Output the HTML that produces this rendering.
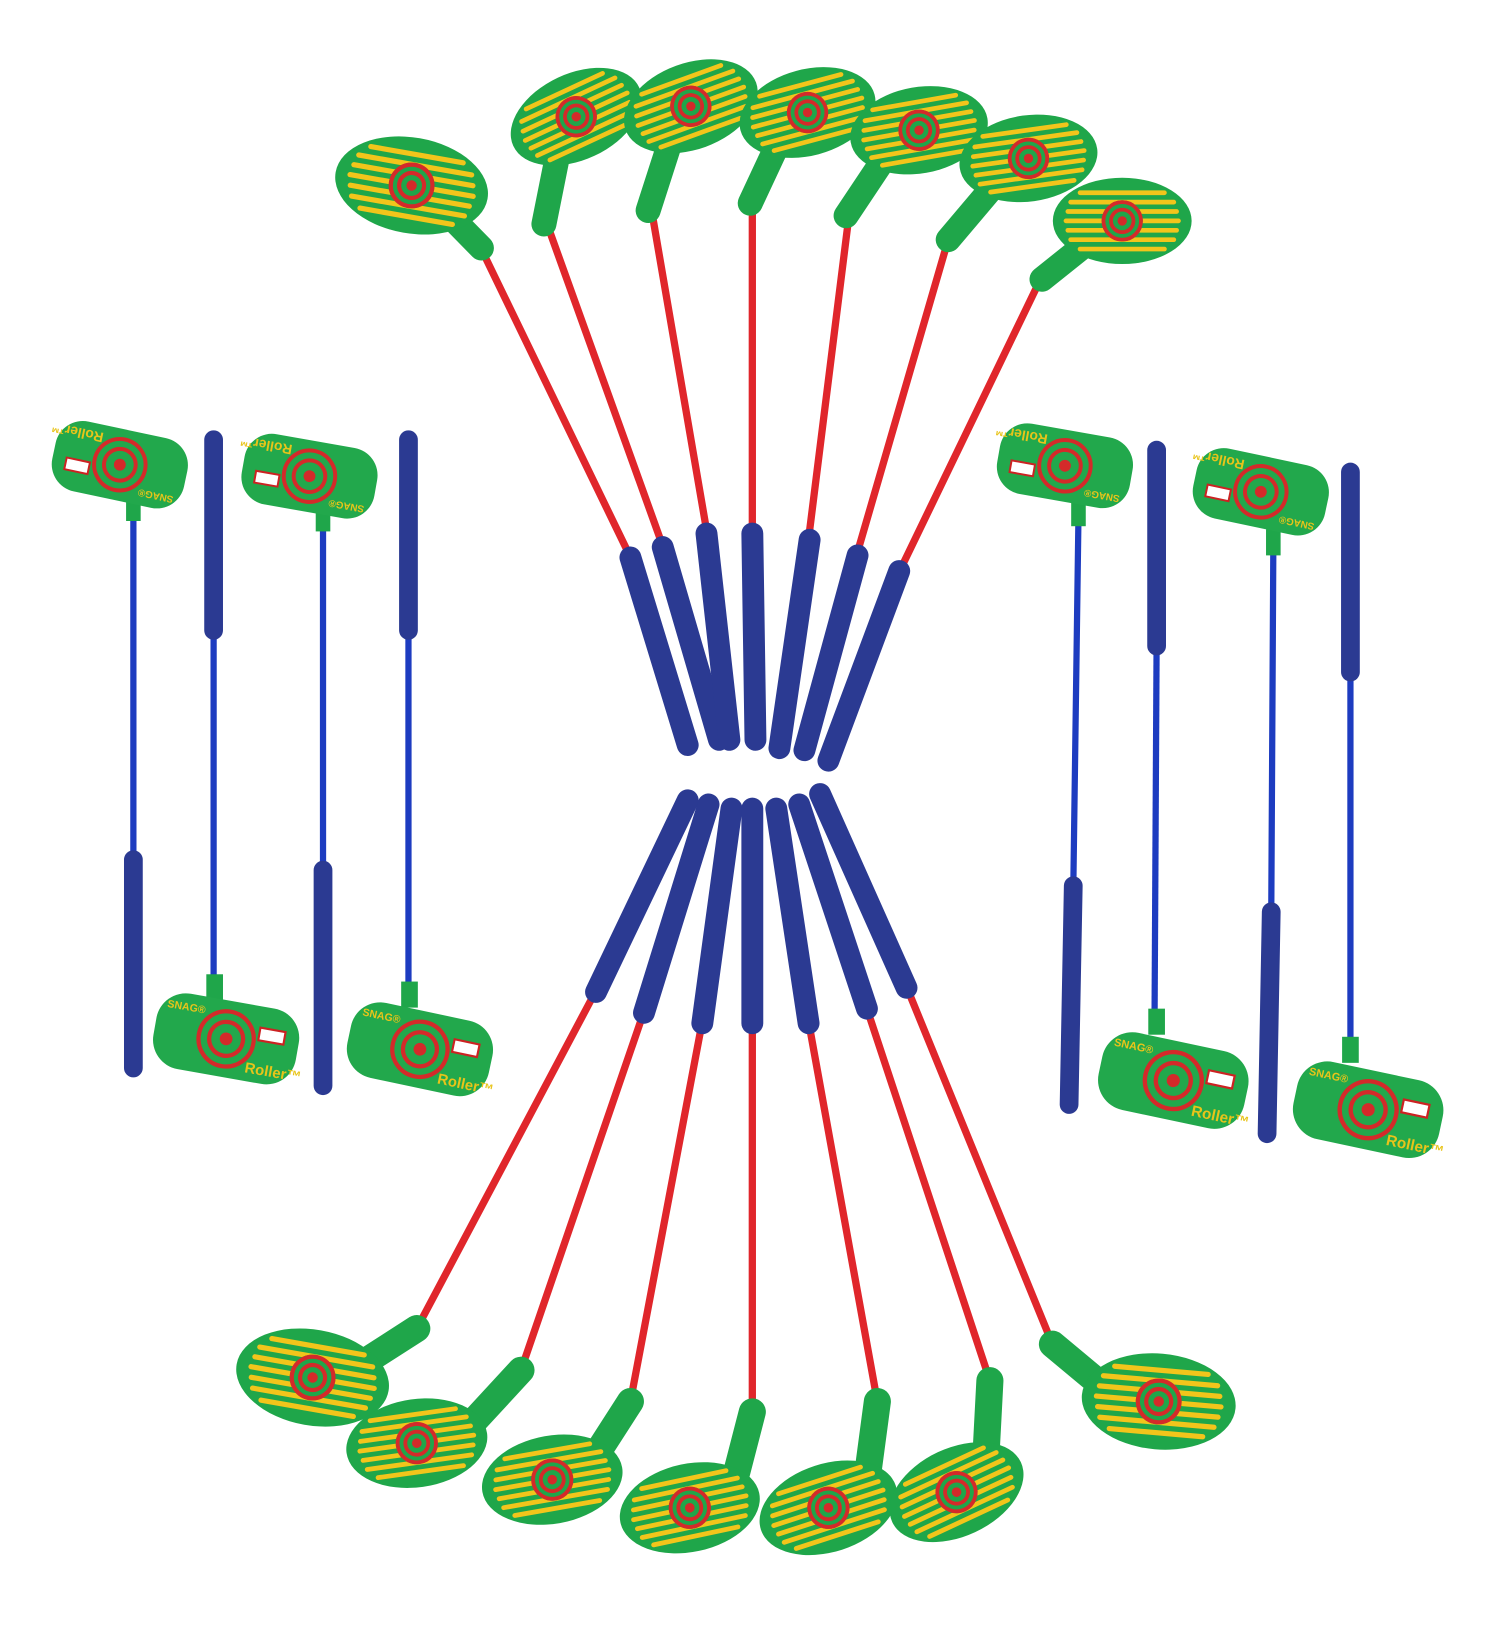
<!DOCTYPE html>
<html><head><meta charset="utf-8"><style>html,body{margin:0;padding:0;background:#fff}svg{display:block}</style></head><body>
<svg width="1500" height="1645" viewBox="0 0 1500 1645" xmlns="http://www.w3.org/2000/svg">
<defs>
<g id="dh">
<ellipse cx="0" cy="0" rx="74" ry="46" fill="#1fa64a"/>
<g stroke="#f2c51b" stroke-width="5" stroke-linecap="round">
<line x1="-45" y1="-30" x2="45" y2="-30"/><line x1="-55" y1="-20" x2="55" y2="-20"/>
<line x1="-58" y1="-10" x2="58" y2="-10"/><line x1="-60" y1="0" x2="60" y2="0"/>
<line x1="-58" y1="10" x2="58" y2="10"/><line x1="-55" y1="20" x2="55" y2="20"/>
<line x1="-45" y1="30" x2="45" y2="30"/></g>
<circle r="22" fill="#1fa64a"/><circle r="20" fill="none" stroke="#d42a2a" stroke-width="4"/>
<circle r="12" fill="none" stroke="#d42a2a" stroke-width="4"/><circle r="5" fill="#d42a2a"/>
</g>
<g id="ph">
<rect x="-68" y="-36" width="136" height="72" rx="28" fill="#22a84c"/>
<circle r="26" fill="none" stroke="#d42a2a" stroke-width="4"/><circle r="16" fill="none" stroke="#d42a2a" stroke-width="4"/><circle r="6" fill="#d42a2a"/>
<rect x="30" y="-16" width="24" height="12" fill="#fff" stroke="#c22" stroke-width="2"/>
<text x="22" y="28" font-family="Liberation Sans,sans-serif" font-size="14" font-weight="bold" fill="#e8c41a">Roller™</text>
<text x="-60" y="-20" font-family="Liberation Sans,sans-serif" font-size="10" font-weight="bold" fill="#e8c41a">SNAG®</text>
</g>
</defs>
<g stroke-linecap="round" transform="scale(1.042)">
<!-- top woods -->
<line x1="460" y1="235" x2="610" y2="545" stroke="#e0262b" stroke-width="7"/><line x1="605" y1="535" x2="660" y2="715" stroke="#2b3a92" stroke-width="21"/>
<line x1="525" y1="215" x2="640" y2="535" stroke="#e0262b" stroke-width="7"/><line x1="636" y1="525" x2="690" y2="710" stroke="#2b3a92" stroke-width="21"/>
<line x1="625" y1="200" x2="680" y2="520" stroke="#e0262b" stroke-width="7"/><line x1="678" y1="512" x2="700" y2="710" stroke="#2b3a92" stroke-width="21"/>
<line x1="722" y1="195" x2="722" y2="520" stroke="#e0262b" stroke-width="7"/><line x1="722" y1="512" x2="725" y2="710" stroke="#2b3a92" stroke-width="21"/>
<line x1="815" y1="205" x2="775" y2="525" stroke="#e0262b" stroke-width="7"/><line x1="777" y1="518" x2="748" y2="718" stroke="#2b3a92" stroke-width="21"/>
<line x1="910" y1="230" x2="820" y2="540" stroke="#e0262b" stroke-width="7"/><line x1="823" y1="533" x2="772" y2="720" stroke="#2b3a92" stroke-width="21"/>
<line x1="1000" y1="265" x2="860" y2="555" stroke="#e0262b" stroke-width="7"/><line x1="863" y1="548" x2="795" y2="730" stroke="#2b3a92" stroke-width="21"/>
<g stroke="#1fa64a" stroke-width="24"><line x1="410" y1="185" x2="462" y2="238"/><line x1="540" y1="125" x2="522" y2="215"/><line x1="650" y1="115" x2="622" y2="202"/><line x1="755" y1="120" x2="720" y2="195"/><line x1="860" y1="135" x2="812" y2="207"/><line x1="965" y1="165" x2="910" y2="230"/><line x1="1060" y1="220" x2="1000" y2="268"/></g>
<use href="#dh" transform="translate(395,178) rotate(10)"/>
<use href="#dh" transform="translate(553,112) rotate(-25) scale(0.9)"/>
<use href="#dh" transform="translate(663,102) rotate(-20) scale(0.9)"/>
<use href="#dh" transform="translate(775,108) rotate(-15) scale(0.9)"/>
<use href="#dh" transform="translate(882,125) rotate(-10) scale(0.9)"/>
<use href="#dh" transform="translate(987,152) rotate(-8) scale(0.9)"/>
<use href="#dh" transform="translate(1077,212) rotate(0) scale(0.9)"/>
<!-- bottom woods -->
<line x1="575" y1="945" x2="400" y2="1275" stroke="#e0262b" stroke-width="7"/><line x1="660" y1="768" x2="572" y2="952" stroke="#2b3a92" stroke-width="21"/>
<line x1="620" y1="965" x2="500" y2="1315" stroke="#e0262b" stroke-width="7"/><line x1="680" y1="772" x2="618" y2="972" stroke="#2b3a92" stroke-width="21"/>
<line x1="675" y1="975" x2="605" y2="1345" stroke="#e0262b" stroke-width="7"/><line x1="702" y1="776" x2="674" y2="982" stroke="#2b3a92" stroke-width="21"/>
<line x1="722" y1="975" x2="722" y2="1355" stroke="#e0262b" stroke-width="7"/><line x1="722" y1="776" x2="722" y2="982" stroke="#2b3a92" stroke-width="21"/>
<line x1="775" y1="975" x2="842" y2="1345" stroke="#e0262b" stroke-width="7"/><line x1="745" y1="776" x2="776" y2="982" stroke="#2b3a92" stroke-width="21"/>
<line x1="830" y1="962" x2="950" y2="1325" stroke="#e0262b" stroke-width="7"/><line x1="767" y1="772" x2="832" y2="968" stroke="#2b3a92" stroke-width="21"/>
<line x1="868" y1="942" x2="1010" y2="1290" stroke="#e0262b" stroke-width="7"/><line x1="787" y1="762" x2="870" y2="948" stroke="#2b3a92" stroke-width="21"/>
<g stroke="#1fa64a" stroke-width="26"><line x1="400" y1="1275" x2="330" y2="1320"/><line x1="500" y1="1315" x2="440" y2="1380"/><line x1="605" y1="1345" x2="560" y2="1415"/><line x1="722" y1="1355" x2="700" y2="1440"/><line x1="842" y1="1345" x2="830" y2="1435"/><line x1="950" y1="1325" x2="945" y2="1420"/><line x1="1010" y1="1290" x2="1070" y2="1340"/></g>
<use href="#dh" transform="translate(300,1322) rotate(10)"/>
<use href="#dh" transform="translate(400,1385) rotate(-8) scale(0.92)"/>
<use href="#dh" transform="translate(530,1420) rotate(-10) scale(0.92)"/>
<use href="#dh" transform="translate(662,1447) rotate(-12) scale(0.92)"/>
<use href="#dh" transform="translate(795,1447) rotate(-18) scale(0.92)"/>
<use href="#dh" transform="translate(918,1432) rotate(-25) scale(0.92)"/>
<use href="#dh" transform="translate(1112,1345) rotate(5)"/>
<!-- putters -->
<g stroke="#1d3cc0" stroke-width="6">
<line x1="128" y1="490" x2="128" y2="830"/><line x1="205" y1="600" x2="205" y2="945"/>
<line x1="310" y1="505" x2="310" y2="840"/><line x1="392" y1="600" x2="392" y2="950"/>
<line x1="1035" y1="495" x2="1030" y2="855"/><line x1="1110" y1="615" x2="1108" y2="980"/>
<line x1="1222" y1="525" x2="1220" y2="880"/><line x1="1296" y1="640" x2="1296" y2="1005"/>
</g>
<g stroke="#2b3a92" stroke-width="18">
<line x1="128" y1="825" x2="128" y2="1025"/><line x1="205" y1="422" x2="205" y2="605"/>
<line x1="310" y1="835" x2="310" y2="1042"/><line x1="392" y1="422" x2="392" y2="605"/>
<line x1="1030" y1="850" x2="1026" y2="1060"/><line x1="1110" y1="432" x2="1110" y2="620"/>
<line x1="1220" y1="875" x2="1216" y2="1088"/><line x1="1296" y1="453" x2="1296" y2="645"/>
</g>
<g fill="#1fa64a"><rect x="121" y="475" width="14" height="25"/><rect x="303" y="485" width="14" height="25"/><rect x="198" y="935" width="16" height="25"/><rect x="385" y="942" width="16" height="25"/><rect x="1028" y="480" width="14" height="25"/><rect x="1215" y="508" width="14" height="25"/><rect x="1102" y="968" width="16" height="25"/><rect x="1288" y="995" width="16" height="25"/></g>
<use href="#ph" transform="translate(115,446) rotate(192) scale(0.95)"/>
<use href="#ph" transform="translate(297,457) rotate(190) scale(0.95)"/>
<use href="#ph" transform="translate(1022,447) rotate(190) scale(0.95)"/>
<use href="#ph" transform="translate(1210,472) rotate(192) scale(0.95)"/>
<use href="#ph" transform="translate(217,997) rotate(10) scale(1.02)"/>
<use href="#ph" transform="translate(403,1007) rotate(12) scale(1.02)"/>
<use href="#ph" transform="translate(1126,1037) rotate(12) scale(1.05)"/>
<use href="#ph" transform="translate(1313,1065) rotate(12) scale(1.05)"/>
</g>
</svg>
</body></html>
